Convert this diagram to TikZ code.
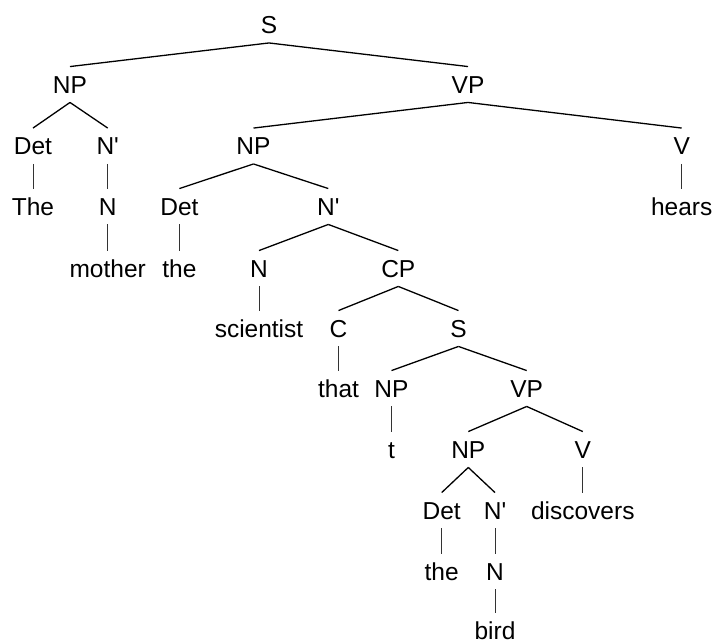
\documentclass[tikz,border=0pt]{standalone}
\usepackage{fontspec}
\setmainfont{Liberation Sans}[Ligatures=TeXOff]
\begin{document}
\begin{tikzpicture}[x=1pt,y=-1pt,
  cat/.style={inner xsep=0pt, inner ysep=9pt, text height=17.5pt, text depth=0pt,
              font=\fontsize{24.5}{29}\selectfont},
  branch/.style={line width=1.3pt, black},
  stem/.style={line width=0.9pt, black!80}]
\useasboundingbox (0,0) rectangle (713,641);

% categories and words, level by level
\node[cat] (s0)     at (269,25)      {S};
\node[cat] (np1)    at (70,84.5)     {NP};
\node[cat] (vp1)    at (468,84.5)    {VP};
\node[cat] (det1)   at (33,146)      {Det};
\node[cat] (nb1)    at (107.7,146)   {N'};
\node[cat] (np2)    at (253.5,146)   {NP};
\node[cat] (v1)     at (681.7,146)   {V};
\node[cat] (the1)   at (33,206.5)    {The};
\node[cat] (n1)     at (107.7,206.5) {N};
\node[cat] (det2)   at (179.4,206.5) {Det};
\node[cat] (nb2)    at (328.3,206.5) {N'};
\node[cat] (hears)  at (681.7,206.5) {hears};
\node[cat] (mother) at (107.7,268.5) {mother};
\node[cat] (the2)   at (179.4,268.5) {the};
\node[cat] (n2)     at (259,268.5)   {N};
\node[cat] (cp)     at (398.3,268.5) {CP};
\node[cat] (sci)    at (259,328.5)   {scientist};
\node[cat] (c)      at (338.5,328.5) {C};
\node[cat] (s2)     at (458.5,328.5) {S};
\node[cat] (that)   at (338.5,388.5) {that};
\node[cat] (np3)    at (391.5,388.5) {NP};
\node[cat] (vp2)    at (526.7,388.5) {VP};
\node[cat] (t)      at (391.5,449.5) {t};
\node[cat] (np4)    at (468.3,449.5) {NP};
\node[cat] (v2)     at (582.8,449.5) {V};
\node[cat] (det3)   at (441.7,510.5) {Det};
\node[cat] (nb3)    at (495,510.5)   {N'};
\node[cat] (disc)   at (582.8,510.5) {discovers};
\node[cat] (the3)   at (441.7,571.5) {the};
\node[cat] (n3)     at (495,571.5)   {N};
\node[cat] (bird)   at (495,631)     {bird};

% branching edges
\foreach \p/\q in {s0/np1, s0/vp1, np1/det1, np1/nb1, vp1/np2, vp1/v1,
                   np2/det2, np2/nb2, nb2/n2, nb2/cp, cp/c, cp/s2,
                   s2/np3, s2/vp2, vp2/np4, vp2/v2, np4/det3, np4/nb3}
  \draw[branch] (\p.south) -- (\q.north);

% unary edges
\foreach \p/\q in {det1/the1, nb1/n1, n1/mother, v1/hears, det2/the2,
                   n2/sci, c/that, np3/t, v2/disc, det3/the3, nb3/n3, n3/bird}
  \draw[stem] (\p.south) -- (\q.north);
\end{tikzpicture}
\end{document}
